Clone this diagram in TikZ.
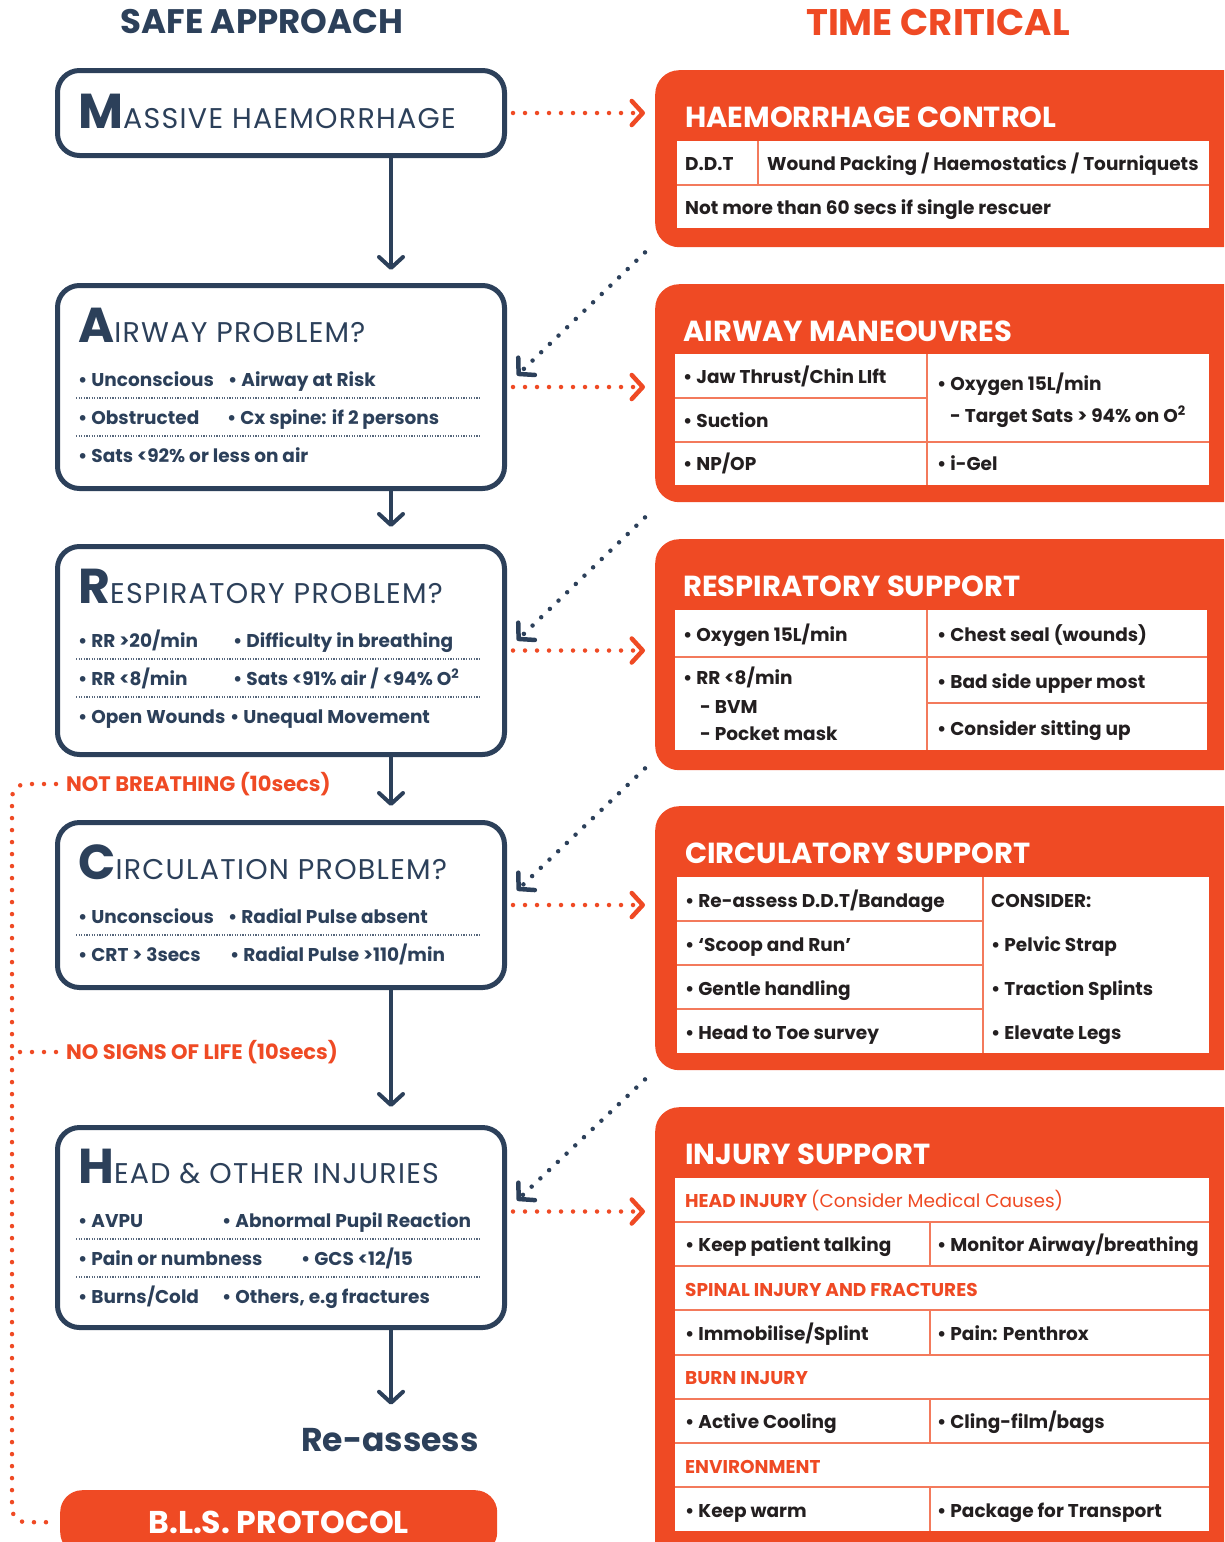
\documentclass[tikz,border=0pt]{standalone}
\usepackage{fontspec}
\setmainfont{Poppins}
\usetikzlibrary{arrows.meta}
\definecolor{navy}{HTML}{2C405A}
\definecolor{tcred}{HTML}{EF4A24}
\definecolor{tcline}{HTML}{F37A5C}
\definecolor{ink}{HTML}{231F20}
\newcommand\bodyfont{\fontsize{18.5}{22}\selectfont\bfseries}
\newcommand\headfont{\fontsize{29}{31}\selectfont\bfseries}
\newcommand\probtitle[2]{{\fontsize{49}{49}\selectfont\bfseries #1}{\fontsize{28.5}{28}\selectfont\addfontfeature{LetterSpace=4.5}#2}}
\tikzset{
  probbox/.style={draw=navy, line width=5pt, rounded corners=22pt, anchor=north west, inner sep=0pt, minimum width=447pt},
  tcbox/.style={fill=tcred, rounded corners=24pt, anchor=north west, inner sep=0pt, minimum width=600pt},
  navtxt/.style={anchor=base west, inner sep=0pt, text=navy, font=\bodyfont},
  inktxt/.style={anchor=base west, inner sep=0pt, text=ink, font=\bodyfont},
  redtxt/.style={anchor=base west, inner sep=0pt, text=tcred, font=\bodyfont},
  boxhead/.style={anchor=base west, inner sep=0pt, text=white, font=\headfont},
  probhead/.style={anchor=base west, inner sep=0pt, text=navy},
  sep/.style={navy!80, line width=1.2pt, dash pattern=on 1.2pt off 1.4pt},
  tline/.style={tcline, line width=1.6pt},
  flow/.style={navy, line width=4pt, -{Straight Barb[length=11pt, width=24pt, round]}},
  hint/.style={tcred, line width=4.5pt, line cap=round, dash pattern=on 0pt off 12pt, -{Straight Barb[length=11pt, width=24pt, round]}},
  back/.style={navy, line width=4.5pt, line cap=round, dash pattern=on 0pt off 12pt, -{Straight Barb[length=11pt, width=24pt, round]}},
  rail/.style={tcred, line width=4.5pt, line cap=round, dash pattern=on 0pt off 12pt}
}

\begin{document}
\begin{tikzpicture}[x=1pt,y=-1pt]
\useasboundingbox (0,0) rectangle (1224,1542);
\clip (0,0) rectangle (1224,1542);

\node[text=navy, font=\fontsize{34}{34}\selectfont\bfseries] (safe) at (262,22) {SAFE APPROACH};
\node[text=tcred, font=\fontsize{37}{37}\selectfont\bfseries] (crit) at (938,22) {TIME CRITICAL};

\coordinate (spine) at (391,0);
\coordinate (rail) at (12,0);

\node[probbox, minimum height=85pt] (mh) at (55,68) {};
\node[probhead] (mht) at (78,128) {\probtitle{M}{ASSIVE HAEMORRHAGE}};

\node[probbox, minimum height=203pt] (ab) at (55,283) {};
\node[probhead] (abt) at (78,342) {\probtitle{A}{IRWAY PROBLEM?}};
\node[navtxt] (ab1) at (78,386) {\textbullet\ Unconscious};
\node[navtxt] (ab2) at (228,386) {\textbullet\ Airway at Risk};
\node[navtxt] (ab3) at (78,424) {\textbullet\ Obstructed};
\node[navtxt] (ab4) at (227,424) {\textbullet\ Cx spine: if 2 persons};
\node[navtxt] (ab5) at (78,462) {\textbullet\ Sats <92\% or less on air};
\foreach \y in {398,436} \draw[sep] (76,\y) -- (480,\y);

\node[probbox, minimum height=208pt] (rp) at (55,544) {};
\node[probhead] (rpt) at (78,603) {\probtitle{R}{ESPIRATORY PROBLEM?}};
\node[navtxt] (rp1) at (78,647) {\textbullet\ RR >20/min};
\node[navtxt] (rp2) at (233,647) {\textbullet\ Difficulty in breathing};
\node[navtxt] (rp3) at (78,685) {\textbullet\ RR <8/min};
\node[navtxt] (rp4) at (233,685) {\textbullet\ Sats <91\% air / <94\% O\textsuperscript{2}};
\node[navtxt] (rp5) at (78,723) {\textbullet\ Open Wounds};
\node[navtxt] (rp6) at (230,723) {\textbullet\ Unequal Movement};
\foreach \y in {659,697} \draw[sep] (76,\y) -- (480,\y);

\node[probbox, minimum height=165pt] (cp) at (55,820) {};
\node[probhead] (cpt) at (78,879) {\probtitle{C}{IRCULATION PROBLEM?}};
\node[navtxt] (cp1) at (78,923) {\textbullet\ Unconscious};
\node[navtxt] (cp2) at (228,923) {\textbullet\ Radial Pulse absent};
\node[navtxt] (cp3) at (78,961) {\textbullet\ CRT > 3secs};
\node[navtxt] (cp4) at (230,961) {\textbullet\ Radial Pulse >110/min};
\draw[sep] (76,935) -- (480,935);

\node[probbox, minimum height=200pt] (hd) at (55,1125) {};
\node[probhead] (hdt) at (78,1183) {\probtitle{H}{EAD \& OTHER INJURIES}};
\node[navtxt] (hd1) at (78,1227) {\textbullet\ AVPU};
\node[navtxt] (hd2) at (222,1227) {\textbullet\ Abnormal Pupil Reaction};
\node[navtxt] (hd3) at (78,1265) {\textbullet\ Pain or numbness};
\node[navtxt] (hd4) at (301,1265) {\textbullet\ GCS <12/15};
\node[navtxt] (hd5) at (78,1303) {\textbullet\ Burns/Cold};
\node[navtxt] (hd6) at (222,1303) {\textbullet\ Others, e.g fractures};
\foreach \y in {1239,1277} \draw[sep] (76,\y) -- (480,\y);

\node[text=navy, font=\fontsize{33}{33}\selectfont\bfseries] (ra) at (390,1440) {Re-assess};
\node[fill=tcred, rounded corners=22pt, anchor=north west, minimum width=437pt, minimum height=64pt, inner sep=0pt,
      text=white, font=\fontsize{31.5}{32}\selectfont\bfseries] (bls) at (60,1490) {B.L.S. PROTOCOL};

\draw[flow, shorten >=13pt] (mh.south -| spine) -- (ab.north -| spine);
\draw[flow, shorten >=17pt] (ab.south -| spine) -- (rp.north -| spine);
\draw[flow, shorten >=14pt] (rp.south -| spine) -- (cp.north -| spine);
\draw[flow, shorten >=18pt] (cp.south -| spine) -- (hd.north -| spine);
\draw[flow, shorten >=20pt] (hd.south -| spine) -- (ra.north -| spine);

\node[redtxt, anchor=west, font=\fontsize{21}{23}\selectfont\bfseries] (nb) at (66,784) {NOT BREATHING (10secs)};
\node[redtxt, anchor=west, font=\fontsize{21}{23}\selectfont\bfseries] (nsl) at (66,1052) {NO SIGNS OF LIFE (10secs)};
\draw[rail, rounded corners=14pt] ([xshift=-10pt]nb.west) -| ([xshift=-48pt]bls.west) -- ([xshift=-4pt]bls.west);
\draw[rail] ([xshift=-10pt]nsl.west) -- (nsl.west -| rail);

\node[tcbox, minimum height=177pt] (hc) at (655,70) {};
\node[boxhead] (hct) at (685,127) {HAEMORRHAGE CONTROL};
\fill[white] (677,141) rectangle (1209,228);
\draw[tline] (677,185) -- (1209,185) (758,141) -- (758,185);
\node[inktxt] (hc1) at (685,170) {D.D.T};
\node[inktxt] (hc2) at (767,170) {Wound Packing / Haemostatics / Tourniquets};
\node[inktxt] (hc3) at (685,214) {Not more than 60 secs if single rescuer};

\node[tcbox, minimum height=218pt] (am) at (655,284) {};
\node[boxhead] (amt) at (683,341) {AIRWAY MANEOUVRES};
\fill[white] (675,354) rectangle (1209,485);
\draw[tline] (675,398) -- (927,398) (675,442) -- (1209,442) (927,354) -- (927,485);
\node[inktxt] (am1) at (683,383) {\textbullet\ Jaw Thrust/Chin LIft};
\node[inktxt] (am2) at (683,427) {\textbullet\ Suction};
\node[inktxt] (am3) at (683,470) {\textbullet\ NP/OP};
\node[inktxt] (am4) at (937,390) {\textbullet\ Oxygen 15L/min};
\node[inktxt] (am5) at (950,422) {- Target Sats > 94\% on O\textsuperscript{2}};
\node[inktxt] (am6) at (937,470) {\textbullet\ i-Gel};

\node[tcbox, minimum height=231pt] (rs) at (655,539) {};
\node[boxhead] (rst) at (683,596) {RESPIRATORY SUPPORT};
\fill[white] (675,610) rectangle (1207,750);
\draw[tline] (675,657) -- (1207,657) (927,703) -- (1207,703) (927,610) -- (927,750);
\node[inktxt] (rs1) at (683,641) {\textbullet\ Oxygen 15L/min};
\node[inktxt] (rs2) at (683,684) {\textbullet\ RR <8/min};
\node[inktxt] (rs3) at (700,713) {- BVM};
\node[inktxt] (rs4) at (700,740) {- Pocket mask};
\node[inktxt] (rs5) at (937,641) {\textbullet\ Chest seal (wounds)};
\node[inktxt] (rs6) at (937,688) {\textbullet\ Bad side upper most};
\node[inktxt] (rs7) at (937,735) {\textbullet\ Consider sitting up};

\node[tcbox, minimum height=264pt] (cs) at (655,806) {};
\node[boxhead] (cst) at (685,863) {CIRCULATORY SUPPORT};
\fill[white] (677,877) rectangle (1209,1053);
\foreach \y in {921,965,1009} \draw[tline] (677,\y) -- (983,\y);
\draw[tline] (983,877) -- (983,1053);
\node[inktxt] (cs1) at (685,907) {\textbullet\ Re-assess D.D.T/Bandage};
\node[inktxt] (cs2) at (685,951) {\textbullet\ ‘Scoop and Run’};
\node[inktxt] (cs3) at (685,995) {\textbullet\ Gentle handling};
\node[inktxt] (cs4) at (685,1039) {\textbullet\ Head to Toe survey};
\node[inktxt] (cs5) at (991,907) {CONSIDER:};
\node[inktxt] (cs6) at (991,951) {\textbullet\ Pelvic Strap};
\node[inktxt] (cs7) at (991,995) {\textbullet\ Traction Splints};
\node[inktxt] (cs8) at (991,1039) {\textbullet\ Elevate Legs};

\node[tcbox, minimum height=460pt] (is) at (655,1107) {};
\node[boxhead] (ist) at (685,1164) {INJURY SUPPORT};
\fill[white] (675,1178) rectangle (1209,1531);
\foreach \y in {1222,1266,1310,1355,1399,1443,1487} \draw[tline] (675,\y) -- (1209,\y);
\foreach \y in {1222,1310,1399,1487} \draw[tline] (930,\y) -- (930,\y+44);
\node[redtxt] (is1) at (685,1207) {HEAD INJURY {\mdseries (Consider Medical Causes)}};
\node[inktxt] (is2) at (685,1251) {\textbullet\ Keep patient talking};
\node[inktxt] (is3) at (937,1251) {\textbullet\ Monitor Airway/breathing};
\node[redtxt] (is4) at (685,1296) {SPINAL INJURY AND FRACTURES};
\node[inktxt] (is5) at (685,1340) {\textbullet\ Immobilise/Splint};
\node[inktxt] (is6) at (937,1340) {\textbullet\ Pain: Penthrox};
\node[redtxt] (is7) at (685,1384) {BURN INJURY};
\node[inktxt] (is8) at (685,1428) {\textbullet\ Active Cooling};
\node[inktxt] (is9) at (937,1428) {\textbullet\ Cling-film/bags};
\node[redtxt] (is10) at (685,1473) {ENVIRONMENT};
\node[inktxt] (is11) at (685,1517) {\textbullet\ Keep warm};
\node[inktxt] (is12) at (937,1517) {\textbullet\ Package for Transport};

\draw[hint, shorten <=6pt, shorten >=10pt] (mh.east) -- (mh.east -| hc.west);
\draw[hint, shorten <=6pt, shorten >=10pt] (ab.east) -- (ab.east -| am.west);
\draw[hint, shorten <=6pt, shorten >=10pt] (rp.east) -- (rp.east -| rs.west);
\draw[hint, shorten <=6pt, shorten >=10pt] (cp.east) -- (cp.east -| cs.west);
\draw[hint, shorten <=6pt, shorten >=10pt] ([yshift=16pt]hd.east) -- ([yshift=16pt]hd.east -| is.west);

\draw[back] ([xshift=-10pt,yshift=-5pt]hc.south west) -- ([xshift=10pt,yshift=11.5pt]ab.east);
\draw[back] ([xshift=-10pt,yshift=-15pt]am.south west) -- ([xshift=10pt,yshift=10pt]rp.east);
\draw[back] ([xshift=-10pt,yshift=2pt]rs.south west) -- ([xshift=10pt,yshift=14.5pt]cp.east);
\draw[back] ([xshift=-10pt,yshift=-9pt]cs.south west) -- ([xshift=10pt,yshift=27pt]hd.east);
\end{tikzpicture}
\end{document}
